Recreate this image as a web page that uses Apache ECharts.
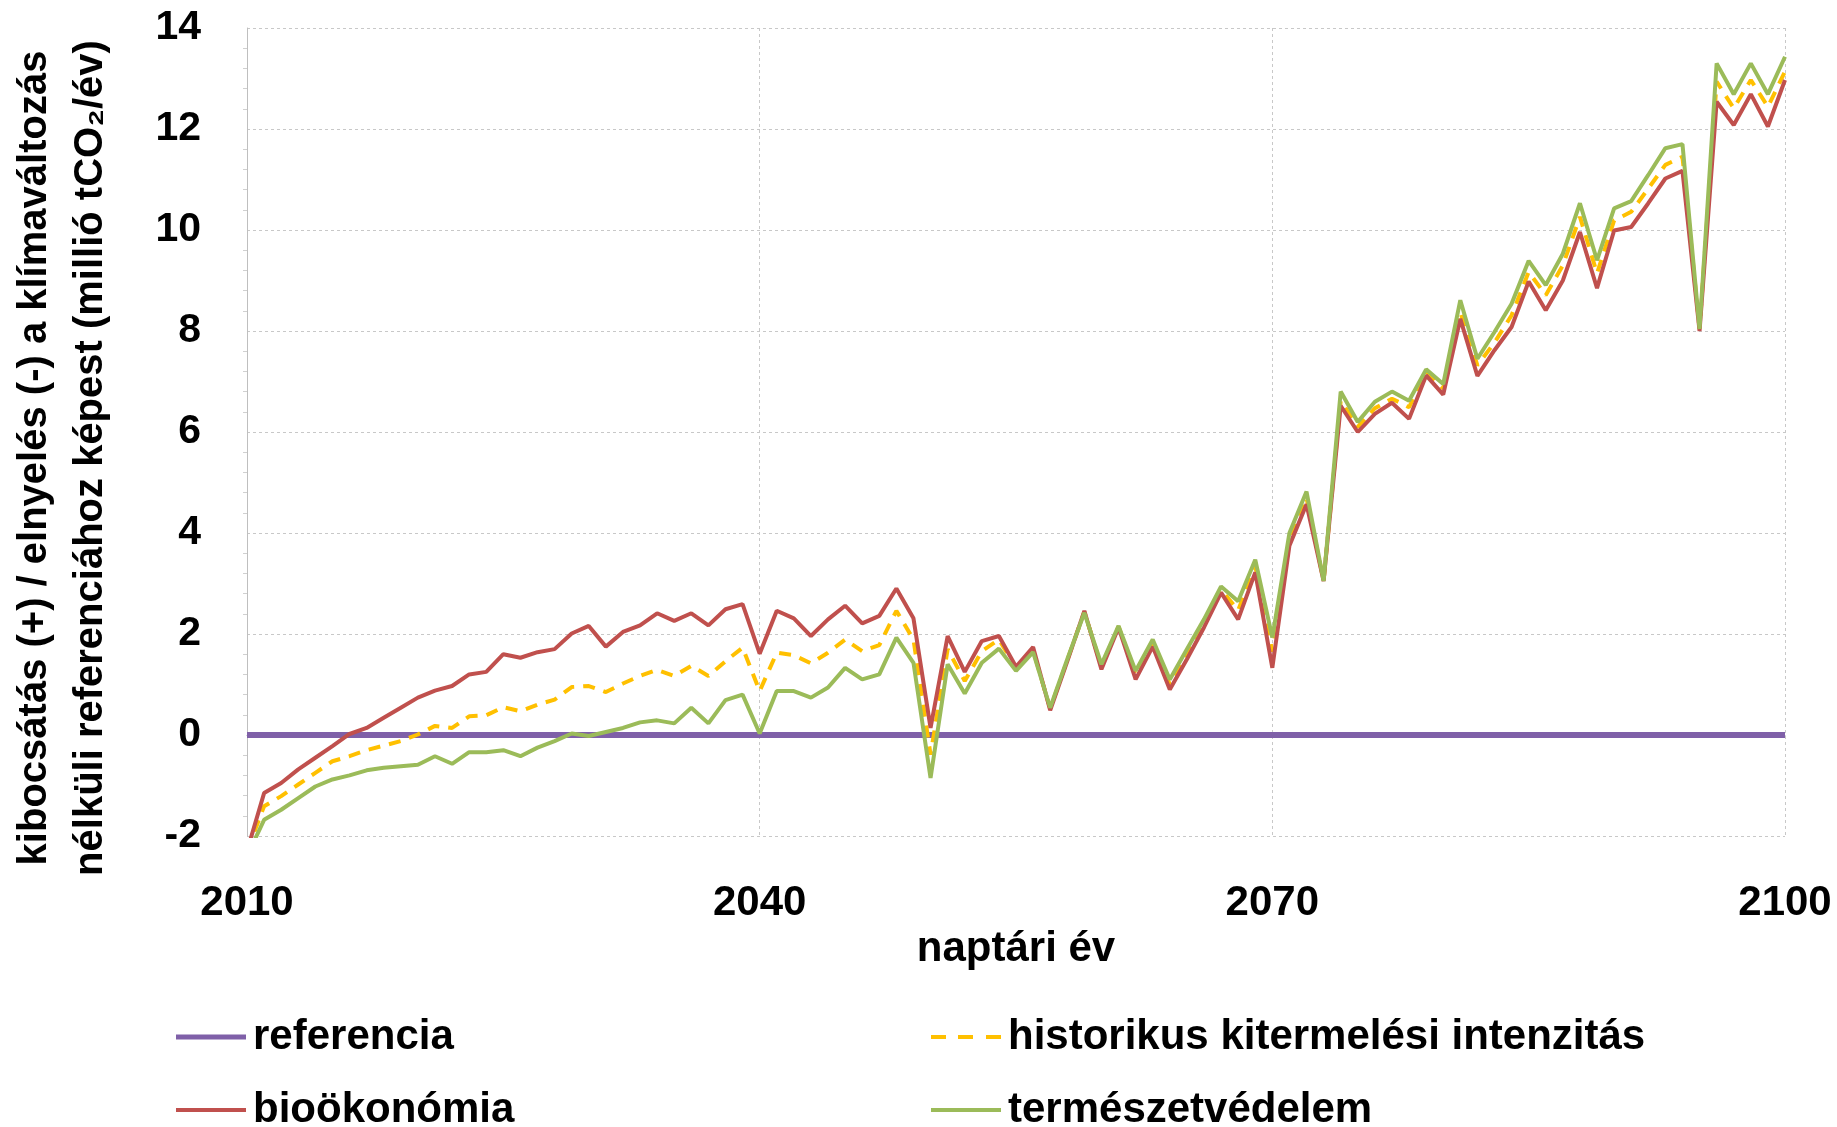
<!DOCTYPE html>
<html>
<head>
<meta charset="utf-8">
<script src="https://cdn.jsdelivr.net/npm/echarts@6/dist/echarts.min.js"></script>
<style>
html,body{margin:0;padding:0;background:#fff;}
#chart{width:1837px;height:1127px;}
</style>
</head>
<body>
<div id="chart"></div>
<script>
// Years 2010..2100
var startYear = 2010;
var xTicks = [2010, 2040, 2070, 2100];
var yTicks = [-2, 0, 2, 4, 6, 8, 10, 12, 14];
var seriesNames = ['referencia', 'historikus kitermelési intenzitás', 'bioökonómia', 'természetvédelem'];

var referencia = [
 0,0,0,0,0,0,0,0,0,0, 0,0,0,0,0,0,0,0,0,0,
 0,0,0,0,0,0,0,0,0,0, 0,0,0,0,0,0,0,0,0,0,
 0,0,0,0,0,0,0,0,0,0, 0,0,0,0,0,0,0,0,0,0,
 0,0,0,0,0,0,0,0,0,0, 0,0,0,0,0,0,0,0,0,0,
 0,0,0,0,0,0,0,0,0,0, 0
];
var historikus = [
 -2.3,-1.41,-1.21,-0.98,-0.75,-0.52,-0.42,-0.30,-0.21,-0.12,
 0.01,0.18,0.14,0.37,0.39,0.55,0.47,0.60,0.70,0.95,
 0.97,0.85,1.02,1.17,1.29,1.17,1.37,1.17,1.46,1.73,
 0.87,1.63,1.58,1.42,1.63,1.89,1.66,1.78,2.46,1.89,
 -0.39,1.70,1.07,1.66,1.89,1.33,1.68,0.52,1.48,2.44,
 1.35,2.15,1.19,1.82,1.00,1.60,2.21,2.88,2.47,3.35,
 1.65,3.88,4.70,3.05,6.62,6.10,6.47,6.66,6.49,7.19,
 6.86,8.37,7.32,7.77,8.31,9.17,8.71,9.30,10.26,9.14,
 10.19,10.36,10.82,11.29,11.45,8.04,12.94,12.41,12.97,12.44,
 13.14
];
var biookonomia = [
 -2.3,-1.15,-0.95,-0.68,-0.45,-0.22,0.02,0.14,0.34,0.54,
 0.74,0.88,0.97,1.20,1.25,1.60,1.53,1.64,1.70,2.01,
 2.16,1.75,2.04,2.17,2.41,2.26,2.41,2.17,2.49,2.59,
 1.61,2.46,2.31,1.96,2.29,2.56,2.21,2.36,2.90,2.31,
 0.14,1.96,1.25,1.86,1.96,1.35,1.74,0.49,1.46,2.46,
 1.30,2.13,1.10,1.75,0.90,1.50,2.13,2.82,2.29,3.22,
 1.33,3.75,4.57,3.05,6.52,6.00,6.36,6.58,6.26,7.12,
 6.74,8.24,7.11,7.62,8.08,8.98,8.41,9.00,9.96,8.85,
 9.99,10.06,10.53,11.02,11.17,8.00,12.54,12.08,12.69,12.05,
 12.97
];
var termeszetvedelem = [
 -2.4,-1.68,-1.48,-1.25,-1.02,-0.88,-0.80,-0.70,-0.65,-0.62,
 -0.59,-0.42,-0.57,-0.34,-0.34,-0.30,-0.42,-0.25,-0.12,0.03,
 -0.02,0.06,0.14,0.25,0.29,0.23,0.54,0.23,0.69,0.80,
 0.03,0.87,0.87,0.74,0.94,1.33,1.10,1.20,1.93,1.43,
 -0.85,1.40,0.82,1.43,1.71,1.27,1.64,0.54,1.50,2.42,
 1.40,2.16,1.27,1.89,1.10,1.70,2.29,2.94,2.65,3.47,
 1.93,4.00,4.82,3.05,6.80,6.20,6.60,6.80,6.62,7.24,
 6.95,8.61,7.45,7.98,8.54,9.39,8.91,9.53,10.53,9.40,
 10.43,10.57,11.09,11.62,11.70,8.04,13.30,12.69,13.30,12.69,
 13.43
];

function pairs(arr){
  return arr.map(function(v,i){ return [startYear + i, v]; });
}

var FONT = "'Liberation Sans', Arial, sans-serif";
var COLORS = ['#7f60a8', '#ffc000', '#c0504d', '#9bbb59'];
var chart = echarts.init(document.getElementById('chart'));

function legendItem(idx, left, top, icon, h){
  return {
    data: [{ name: seriesNames[idx], icon: icon, itemStyle: { color: COLORS[idx] } }],
    orient: 'horizontal', left: left, top: top, padding: 0,
    itemWidth: 70, itemHeight: h,
    textStyle: { fontFamily: FONT, fontWeight: 'bold', fontSize: 42, color: '#000', lineHeight: 44, padding: [0,0,0,2] }
  };
}
var dashIcon = 'path://M0,0H15V4H0Z M27,0H42V4H27Z M55,0H70V4H55Z';

var option = {
  backgroundColor: '#ffffff',
  animation: false,
  grid: { left: 247, right: 52, top: 28, bottom: 291, containLabel: false },
  xAxis: {
    type: 'value',
    min: xTicks[0], max: xTicks[xTicks.length-1], interval: 30,
    name: 'naptári év',
    nameLocation: 'middle',
    nameGap: 88,
    nameTextStyle: { fontFamily: FONT, fontWeight: 'bold', fontSize: 42, color: '#000' },
    axisLine: { show: true, lineStyle: { color: '#a6a6a6', width: 1 } },
    axisTick: { show: false },
    axisLabel: { margin: 46, fontFamily: FONT, fontWeight: 'bold', fontSize: 42, color: '#000',
      showMinLabel: true, showMaxLabel: true,
      formatter: function(v){ return String(v); } },
    splitLine: { show: true, lineStyle: { color: '#c8c8c8', type: [3,3], width: 1 } }
  },
  yAxis: {
    type: 'value',
    min: yTicks[0], max: yTicks[yTicks.length-1], interval: 2,
    axisLine: { show: true, onZero: false, lineStyle: { color: '#bfbfbf', width: 1 } },
    axisTick: { show: false },
    minorTick: { show: true, splitNumber: 5, length: 4, lineStyle: { color: '#d0d0d0' } },
    axisLabel: { margin: 46, fontFamily: FONT, fontWeight: 'bold', fontSize: 41, color: '#000',
      formatter: function(v){ return String(v); } },
    splitLine: { show: true, lineStyle: { color: '#c8c8c8', type: [3,3], width: 1 } }
  },
  legend: [
    legendItem(0, 176, 1015, 'rect', 5),
    legendItem(1, 931, 1015, dashIcon, 4),
    legendItem(2, 176, 1088, 'rect', 4),
    legendItem(3, 931, 1088, 'rect', 4)
  ],
  graphic: [
    {
      type: 'text',
      x: 63, y: 458,
      rotation: Math.PI / 2,
      style: {
        text: 'kibocsátás (+) / elnyelés (-) a klímaváltozás\nnélküli referenciához képest (millió tCO₂/év)',
        fontFamily: FONT, fontWeight: 'bold', fontSize: 40, fill: '#000',
        align: 'center', verticalAlign: 'middle', lineHeight: 56
      }
    }
  ],
  series: [
    { name: seriesNames[0], type: 'line', data: pairs(referencia), symbol: 'none',
      lineStyle: { color: COLORS[0], width: 6 }, itemStyle: { color: COLORS[0] }, z: 2 },
    { name: seriesNames[1], type: 'line', data: pairs(historikus), symbol: 'none',
      lineStyle: { color: COLORS[1], width: 4, type: [12, 9] }, itemStyle: { color: COLORS[1] }, z: 3 },
    { name: seriesNames[2], type: 'line', data: pairs(biookonomia), symbol: 'none',
      lineStyle: { color: COLORS[2], width: 4 }, itemStyle: { color: COLORS[2] }, z: 4 },
    { name: seriesNames[3], type: 'line', data: pairs(termeszetvedelem), symbol: 'none',
      lineStyle: { color: COLORS[3], width: 4 }, itemStyle: { color: COLORS[3] }, z: 5 }
  ]
};
chart.setOption(option);
</script>
</body>
</html>
